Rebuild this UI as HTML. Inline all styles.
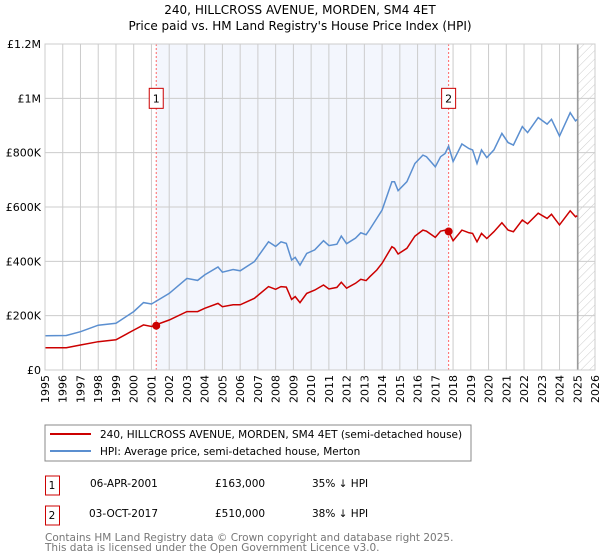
<!DOCTYPE html>
<html><head><meta charset="utf-8"><style>
body{margin:0;background:#fff;font-family:"DejaVu Sans","Liberation Sans",sans-serif}
svg{display:block}
</style></head><body>
<svg id="c" width="600" height="560" xmlns="http://www.w3.org/2000/svg" font-family="DejaVu Sans, Liberation Sans, sans-serif">
<defs><pattern id="hatch" width="6" height="6" patternUnits="userSpaceOnUse" patternTransform="rotate(45)"><line x1="0" y1="0" x2="0" y2="6" stroke="#ccc" stroke-width="1"/></pattern></defs>
<text x="300" y="14" text-anchor="middle" font-size="12">240, HILLCROSS AVENUE, MORDEN, SM4 4ET</text>
<text x="300" y="30" text-anchor="middle" font-size="12">Price paid vs. HM Land Registry's House Price Index (HPI)</text>
<g id="plot"></g>
<rect x="45" y="425" width="426" height="36" fill="#fff" stroke="#888"/>
<line x1="50" y1="434" x2="91" y2="434" stroke="#cc0000" stroke-width="2"/>
<text x="100" y="438" font-size="10.5">240, HILLCROSS AVENUE, MORDEN, SM4 4ET (semi-detached house)</text>
<line x1="50" y1="451" x2="91" y2="451" stroke="#5b8fd0" stroke-width="2"/>
<text x="100" y="455" font-size="10.5">HPI: Average price, semi-detached house, Merton</text>
<g font-size="10.5">
<rect x="45.5" y="476" width="14" height="19" fill="#fff" stroke="#cc0000"/><text x="52" y="489" text-anchor="middle">1</text>
<text x="90" y="487">06-APR-2001</text><text x="215" y="487">£163,000</text><text x="312" y="487">35% ↓ HPI</text>
<rect x="45.5" y="506" width="14" height="19" fill="#fff" stroke="#cc0000"/><text x="52" y="519" text-anchor="middle">2</text>
<text x="89" y="517">03-OCT-2017</text><text x="215" y="517">£510,000</text><text x="312" y="517">38% ↓ HPI</text>
</g>
<text x="45" y="541" font-size="10.5" fill="#777">Contains HM Land Registry data © Crown copyright and database right 2025.</text>
<text x="45" y="551" font-size="10.5" fill="#777">This data is licensed under the Open Government Licence v3.0.</text>
</svg>
<script>
const hpiYears=[1995,1996.2,1997,1998,1999,2000,2000.55,2001,2002,2003,2003.6,2004,2004.75,2005,2005.6,2006,2006.8,2007.6,2008,2008.3,2008.6,2008.9,2009.1,2009.37,2009.75,2010.2,2010.7,2011,2011.45,2011.7,2012,2012.5,2012.8,2013.1,2013.3,2013.7,2014,2014.55,2014.7,2014.9,2015.4,2015.85,2016.3,2016.5,2017,2017.3,2017.55,2017.75,2018,2018.5,2018.9,2019.1,2019.35,2019.6,2019.9,2020.3,2020.75,2021.1,2021.4,2021.9,2022.2,2022.8,2023.3,2023.55,2024,2024.6,2024.9,2025.0];
const hpiValues=[126,127,141,165,172,215,248,243,282,337,330,350,379,360,370,365,399,472,455,472,466,405,415,386,429,442,476,458,463,493,465,485,505,498,517,558,589,693,693,660,693,760,791,785,748,785,797,824,767,832,815,810,760,810,782,810,871,837,828,896,874,929,905,923,861,947,917,923];
const priceValues=[82,82,92,104,111,147,166,160,184,215,215,227,245,233,240,240,264,307,297,307,305,260,270,248,282,294,313,298,304,323,301,319,334,329,343,368,393,454,448,427,448,493,515,511,488,511,515,510,476,515,505,503,472,503,484,509,542,515,509,552,538,577,558,573,534,586,564,568];
const saleYears=[2001.27,2017.75];
const saleValues=[163,510];
const saleLabels=["1","2"];
const yTicks=[0,200,400,600,800,1000,1200];
const yTickLabels=["£0","£200K","£400K","£600K","£800K","£1M","£1.2M"];
const xTickYears=[1995,1996,1997,1998,1999,2000,2001,2002,2003,2004,2005,2006,2007,2008,2009,2010,2011,2012,2013,2014,2015,2016,2017,2018,2019,2020,2021,2022,2023,2024,2025,2026];
const dataEndYear=2025.03;

const X0=45,X1=595,Y0=370,Y1=44;
const xs=y=>X0+(y-1995)/(2026-1995)*(X1-X0);
const ys=v=>Y0-v/1200*(Y0-Y1);
const NS="http://www.w3.org/2000/svg";
const g=document.getElementById('plot');
function mk(t,a,p){const e=document.createElementNS(NS,t);for(const k in a)e.setAttribute(k,a[k]);(p||g).appendChild(e);return e;}

const shade=mk('rect',{x:xs(saleYears[0]),y:Y1,width:xs(saleYears[1])-xs(saleYears[0]),height:Y0-Y1,fill:'#f3f6fd'});


const hatch=mk('rect',{x:xs(dataEndYear),y:Y1,width:X1-xs(dataEndYear),height:Y0-Y1,fill:'url(#hatch)'});



xTickYears.forEach(yr=>{
  const l=mk('line',{x1:xs(yr),x2:xs(yr),y1:Y1,y2:Y0,stroke:'#ccc','stroke-width':1});
  
  
  const tx=xs(yr)+4, ty=Y0+5;
  const t=mk('text',{x:tx,y:ty,'font-size':11,'text-anchor':'end',transform:'rotate(-90 '+tx.toFixed(1)+' '+ty+')'});
  t.style.transform='rotate(-90deg)';
  t.style.transformOrigin=tx.toFixed(1)+'px '+ty+'px';
  t.textContent=yr;
  
  
});
yTicks.forEach((v,i)=>{
  const l=mk('line',{x1:X0,x2:X1,y1:ys(v),y2:ys(v),stroke:'#ccc','stroke-width':1});
  
  
  const t=mk('text',{x:X0-4,y:ys(v)+4,'font-size':11,'text-anchor':'end'});
  t.textContent=yTickLabels[i];
  
  
});
const endLine=mk('line',{x1:xs(dataEndYear),x2:xs(dataEndYear),y1:Y1,y2:Y0,stroke:'#999','stroke-width':1.5});



saleYears.forEach((yr,i)=>{
  const l=mk('line',{x1:xs(yr),x2:xs(yr),y1:Y1,y2:Y0,stroke:'#ff6666','stroke-width':1,'stroke-dasharray':'2,2'});
  
  
  const b=mk('rect',{x:xs(yr)-7,y:ys(1000)-10,width:14,height:20,fill:'#fff',stroke:'#cc0000'});
  
  
  const t=mk('text',{x:xs(yr),y:ys(1000)+4,'font-size':11,'text-anchor':'middle'});
  t.textContent=saleLabels[i];
  
  
});

const hp=mk('path',{d:hpiYears.map((y,i)=>(i?'L':'M')+xs(y).toFixed(1)+','+ys(hpiValues[i]).toFixed(1)).join(''),fill:'none',stroke:'#5b8fd0','stroke-width':1.5});


const pp=mk('path',{d:hpiYears.map((y,i)=>(i?'L':'M')+xs(y).toFixed(1)+','+ys(priceValues[i]).toFixed(1)).join(''),fill:'none',stroke:'#cc0000','stroke-width':1.5});


saleYears.forEach((yr,i)=>{
  const c=mk('circle',{cx:xs(yr),cy:ys(saleValues[i]),r:4,fill:'#cc0000'});
  
  
});
const frame=mk('rect',{x:X0,y:Y1,width:X1-X0,height:Y0-Y1,fill:'none',stroke:'#ccc'});


</script>
</body></html>
